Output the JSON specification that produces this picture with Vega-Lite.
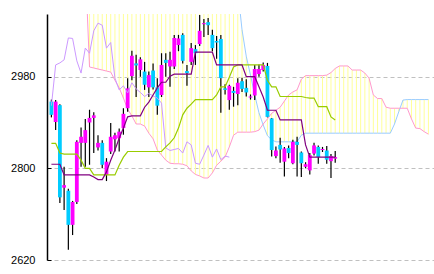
{
"$schema": "https://vega.github.io/schema/vega-lite/v6.json",
"width": 387, "height": 246,
"autosize": "none",
"padding": {"left": 47, "top": 14, "right": 0, "bottom": 14},
"background": "white",
"config": {"view": {"stroke": null}},
"datasets": {
"candles": [
{"i":0,"o":2931,"h":2935,"l":2900,"c":2905},{"i":1,"o":2891,"h":2934,"l":2875,"c":2931},{"i":2,"o":2924,"h":2926,"l":2732,"c":2743},{"i":3,"o":2762,"h":2803,"l":2718,"c":2767},{"i":4,"o":2756,"h":2760,"l":2640,"c":2689},{"i":5,"o":2689,"h":2736,"l":2669,"c":2734},{"i":6,"o":2734,"h":2855,"l":2730,"c":2852},{"i":7,"o":2850,"h":2880,"l":2803,"c":2862},{"i":8,"o":2850,"h":2897,"l":2803,"c":2875},{"i":9,"o":2890,"h":2915,"l":2807,"c":2899},
{"i":10,"o":2899,"h":2910,"l":2830,"c":2904},{"i":11,"o":2841,"h":2865,"l":2835,"c":2850},{"i":12,"o":2850,"h":2855,"l":2800,"c":2807},{"i":13,"o":2787,"h":2820,"l":2775,"c":2813},{"i":14,"o":2833,"h":2889,"l":2828,"c":2862},{"i":15,"o":2857,"h":2870,"l":2833,"c":2865},{"i":16,"o":2859,"h":2878,"l":2833,"c":2872},{"i":17,"o":2879,"h":2918,"l":2866,"c":2907},{"i":18,"o":2918,"h":2977,"l":2911,"c":2957},{"i":19,"o":2981,"h":3031,"l":2973,"c":3021},
{"i":20,"o":3006,"h":3023,"l":2940,"c":3002},{"i":21,"o":2993,"h":3018,"l":2980,"c":3014},{"i":22,"o":2990,"h":3009,"l":2954,"c":2964},{"i":23,"o":2959,"h":2990,"l":2940,"c":2983},{"i":24,"o":2992,"h":3006,"l":2955,"c":2959},{"i":25,"o":2959,"h":2977,"l":2905,"c":2923},{"i":26,"o":2944,"h":3026,"l":2940,"c":3003},{"i":27,"o":3013,"h":3026,"l":2980,"c":3007},{"i":28,"o":3000,"h":3029,"l":2960,"c":3013},{"i":29,"o":3000,"h":3062,"l":2995,"c":3056},
{"i":30,"o":3042,"h":3062,"l":3030,"c":3055},{"i":31,"o":3062,"h":3065,"l":3006,"c":3011},{"i":32,"o":2991,"h":3003,"l":2962,"c":2987},{"i":33,"o":3009,"h":3046,"l":3003,"c":3036},{"i":34,"o":3034,"h":3042,"l":3003,"c":3026},{"i":35,"o":3044,"h":3101,"l":3040,"c":3070},{"i":36,"o":3083,"h":3093,"l":3058,"c":3085},{"i":37,"o":3087,"h":3095,"l":3062,"c":3081},{"i":38,"o":3062,"h":3072,"l":3030,"c":3036},{"i":39,"o":3050,"h":3060,"l":3015,"c":3047},
{"i":40,"o":3054,"h":3062,"l":2909,"c":2977},{"i":41,"o":2957,"h":2965,"l":2945,"c":2954},{"i":42,"o":2934,"h":2964,"l":2915,"c":2962},{"i":43,"o":2952,"h":2960,"l":2921,"c":2948},{"i":44,"o":2946,"h":2977,"l":2924,"c":2968},{"i":45,"o":2971,"h":2978,"l":2950,"c":2956},{"i":46,"o":2958,"h":2975,"l":2941,"c":2949},{"i":47,"o":2939,"h":2945,"l":2935,"c":2941},{"i":48,"o":2943,"h":3003,"l":2934,"c":2995},{"i":49,"o":2985,"h":3004,"l":2980,"c":2995},
{"i":50,"o":2993,"h":3008,"l":2990,"c":3003},{"i":51,"o":3001,"h":3007,"l":2900,"c":2901},{"i":52,"o":2898,"h":2899,"l":2823,"c":2836},{"i":53,"o":2824,"h":2843,"l":2820,"c":2835},{"i":54,"o":2846,"h":2860,"l":2811,"c":2837},{"i":55,"o":2813,"h":2842,"l":2784,"c":2839},{"i":56,"o":2840,"h":2845,"l":2820,"c":2830},{"i":57,"o":2810,"h":2856,"l":2808,"c":2852},{"i":58,"o":2852,"h":2862,"l":2784,"c":2846},{"i":59,"o":2831,"h":2833,"l":2783,"c":2810},
{"i":60,"o":2803,"h":2812,"l":2800,"c":2808},{"i":61,"o":2796,"h":2830,"l":2788,"c":2826},{"i":62,"o":2829,"h":2850,"l":2825,"c":2845},{"i":63,"o":2842,"h":2845,"l":2809,"c":2822},{"i":64,"o":2836,"h":2842,"l":2832,"c":2838},{"i":65,"o":2835,"h":2844,"l":2809,"c":2817},{"i":66,"o":2814,"h":2828,"l":2781,"c":2824},{"i":67,"o":2819,"h":2834,"l":2811,"c":2822}
],
"lines": [
{"i":0,"t":2808,"k":2849},{"i":1,"t":2808,"k":2849},{"i":2,"t":2808,"k":2830},{"i":3,"t":2787,"k":2828},{"i":4,"t":2787,"k":2828},{"i":5,"t":2787,"k":2828},{"i":6,"t":2787,"k":2828},{"i":7,"t":2787,"k":2816},{"i":8,"t":2787,"k":2800},{"i":9,"t":2787,"k":2800},
{"i":10,"t":2783,"k":2787},{"i":11,"t":2778,"k":2787},{"i":12,"t":2778,"k":2787},{"i":13,"t":2793,"k":2787},{"i":14,"t":2816,"k":2787},{"i":15,"t":2836,"k":2787},{"i":16,"t":2859,"k":2806},{"i":17,"t":2879,"k":2822},{"i":18,"t":2901,"k":2833},{"i":19,"t":2903,"k":2833},
{"i":20,"t":2903,"k":2833},{"i":21,"t":2903,"k":2833},{"i":22,"t":2920,"k":2833},{"i":23,"t":2930,"k":2833},{"i":24,"t":2944,"k":2833},{"i":25,"t":2958,"k":2833},{"i":26,"t":2969,"k":2833},{"i":27,"t":2969,"k":2842},{"i":28,"t":2981,"k":2850},{"i":29,"t":2985,"k":2860},
{"i":30,"t":2985,"k":2879},{"i":31,"t":2985,"k":2905},{"i":32,"t":2985,"k":2918},{"i":33,"t":2985,"k":2926},{"i":34,"t":3028,"k":2935},{"i":35,"t":3028,"k":2935},{"i":36,"t":3028,"k":2935},{"i":37,"t":3028,"k":2935},{"i":38,"t":3028,"k":2935},{"i":39,"t":3003,"k":2944},
{"i":40,"t":3003,"k":2960},{"i":41,"t":3003,"k":2960},{"i":42,"t":3003,"k":2979},{"i":43,"t":3003,"k":2999},{"i":44,"t":3003,"k":3003},{"i":45,"t":3003,"k":3003},{"i":46,"t":2980,"k":3003},{"i":47,"t":2980,"k":3003},{"i":48,"t":2980,"k":3003},{"i":49,"t":2960,"k":3003},
{"i":50,"t":2940,"k":3003},{"i":51,"t":2914,"k":2973},{"i":52,"t":2914,"k":2960},{"i":53,"t":2914,"k":2960},{"i":54,"t":2895,"k":2941},{"i":55,"t":2895,"k":2941},{"i":56,"t":2895,"k":2941},{"i":57,"t":2895,"k":2941},{"i":58,"t":2895,"k":2941},{"i":59,"t":2895,"k":2941},
{"i":60,"t":2846,"k":2939},{"i":61,"t":2822,"k":2938},{"i":62,"t":2822,"k":2938},{"i":63,"t":2822,"k":2921},{"i":64,"t":2822,"k":2921},{"i":65,"t":2822,"k":2921},{"i":66,"t":2822,"k":2901},{"i":67,"t":2822,"k":2895}
],
"chikou": [
{"i":0,"v":2923},{"i":1,"v":3003},{"i":2,"v":3007},{"i":3,"v":3013},{"i":4,"v":3056},{"i":5,"v":3055},{"i":6,"v":3011},{"i":7,"v":2987},{"i":8,"v":3036},{"i":9,"v":3026},
{"i":10,"v":3070},{"i":11,"v":3085},{"i":12,"v":3081},{"i":13,"v":3036},{"i":14,"v":3047},{"i":15,"v":2977},{"i":16,"v":2954},{"i":17,"v":2962},{"i":18,"v":2948},{"i":19,"v":2968},
{"i":20,"v":2956},{"i":21,"v":2949},{"i":22,"v":2941},{"i":23,"v":2947},{"i":24,"v":2942},{"i":25,"v":2938},{"i":26,"v":2928},{"i":27,"v":2840},{"i":28,"v":2835},{"i":29,"v":2837},
{"i":30,"v":2839},{"i":31,"v":2830},{"i":32,"v":2852},{"i":33,"v":2846},{"i":34,"v":2810},{"i":35,"v":2808},{"i":36,"v":2826},{"i":37,"v":2845},{"i":38,"v":2822},{"i":39,"v":2838},
{"i":40,"v":2817},{"i":41,"v":2824},{"i":42,"v":2822}
],
"cloud": [
{"i":7,"sa":3200,"sb":3250},{"i":8,"sa":3200,"sb":3200},{"i":9,"sa":3200,"sb":2999},
{"i":10,"sa":3200,"sb":2997},{"i":11,"sa":3200,"sb":2995},{"i":12,"sa":3200,"sb":2993},{"i":13,"sa":3200,"sb":2991},{"i":14,"sa":3200,"sb":2989},{"i":15,"sa":3200,"sb":2973},{"i":16,"sa":3200,"sb":2958},{"i":17,"sa":3200,"sb":2938},{"i":18,"sa":3200,"sb":2916},{"i":19,"sa":3200,"sb":2903},
{"i":20,"sa":3200,"sb":2887},{"i":21,"sa":3200,"sb":2887},{"i":22,"sa":3200,"sb":2883},{"i":23,"sa":3200,"sb":2869},{"i":24,"sa":3200,"sb":2858},{"i":25,"sa":3200,"sb":2836},{"i":26,"sa":3200,"sb":2826},{"i":27,"sa":3200,"sb":2816},{"i":28,"sa":3200,"sb":2810},{"i":29,"sa":3200,"sb":2809},
{"i":30,"sa":3200,"sb":2809},{"i":31,"sa":3200,"sb":2808},{"i":32,"sa":3200,"sb":2805},{"i":33,"sa":3200,"sb":2795},{"i":34,"sa":3200,"sb":2788},{"i":35,"sa":3200,"sb":2785},{"i":36,"sa":3200,"sb":2781},{"i":37,"sa":3200,"sb":2781},{"i":38,"sa":3200,"sb":2791},{"i":39,"sa":3200,"sb":2806},
{"i":40,"sa":3200,"sb":2814},{"i":41,"sa":3200,"sb":2822},{"i":42,"sa":3200,"sb":2842},{"i":43,"sa":3200,"sb":2865},{"i":44,"sa":3150,"sb":2871},{"i":45,"sa":3072,"sb":2871},{"i":46,"sa":3020,"sb":2871},{"i":47,"sa":2983,"sb":2871},{"i":48,"sa":2944,"sb":2872},{"i":49,"sa":2909,"sb":2875},
{"i":50,"sa":2885,"sb":2887},{"i":51,"sa":2864,"sb":2897},{"i":52,"sa":2856,"sb":2908},{"i":53,"sa":2852,"sb":2914},{"i":54,"sa":2852,"sb":2920},{"i":55,"sa":2852,"sb":2932},{"i":56,"sa":2852,"sb":2944},{"i":57,"sa":2852,"sb":2950},{"i":58,"sa":2852,"sb":2954},{"i":59,"sa":2865,"sb":2975},
{"i":60,"sa":2869,"sb":2982},{"i":61,"sa":2869,"sb":2982},{"i":62,"sa":2869,"sb":2982},{"i":63,"sa":2869,"sb":2982},{"i":64,"sa":2869,"sb":2982},{"i":65,"sa":2869,"sb":2983},{"i":66,"sa":2869,"sb":2988},{"i":67,"sa":2869,"sb":2996},{"i":68,"sa":2869,"sb":3001},{"i":69,"sa":2869,"sb":3001},
{"i":70,"sa":2869,"sb":3001},{"i":71,"sa":2869,"sb":2993},{"i":72,"sa":2869,"sb":2993},{"i":73,"sa":2869,"sb":2993},{"i":74,"sa":2869,"sb":2987},{"i":75,"sa":2869,"sb":2977},{"i":76,"sa":2869,"sb":2944},{"i":77,"sa":2869,"sb":2937},{"i":78,"sa":2869,"sb":2937},{"i":79,"sa":2869,"sb":2920},
{"i":80,"sa":2869,"sb":2918},{"i":81,"sa":2887,"sb":2918},{"i":82,"sa":2911,"sb":2918},{"i":83,"sa":2934,"sb":2918},{"i":84,"sa":2935,"sb":2918},{"i":85,"sa":2935,"sb":2897},{"i":86,"sa":2935,"sb":2879},{"i":87,"sa":2935,"sb":2878},{"i":88,"sa":2935,"sb":2872},{"i":89,"sa":2935,"sb":2867}
]
},
"encoding": {
"x": {"field": "i", "type": "quantitative", "scale": {"domain": [0.14, 89.14], "nice": false, "zero": false}, "axis": null}
},
"layer": [
{"data": {"name": "cloud"}, "mark": {"type": "rule", "color": "#ffff99", "strokeWidth": 1, "clip": true},
 "encoding": {"y": {"field": "sa", "type": "quantitative", "title": null, "scale": {"domain": [2620, 3103], "nice": false, "zero": false},
   "axis": {"values": [2620, 2800, 2980], "format": "d", "grid": true, "gridColor": "#c0c0c0", "gridDash": [4, 3], "gridWidth": 1, "domainColor": "#000000", "domainWidth": 1.5, "ticks": true, "tickSize": -4, "tickColor": "#000000", "tickWidth": 1, "labelFont": "Liberation Sans", "labelFontSize": 11, "labelColor": "#000000", "labelPadding": 16, "title": null}},
  "y2": {"field": "sb"}}},
{"data": {"name": "cloud"}, "mark": {"type": "line", "color": "#99ccff", "strokeWidth": 1, "clip": true},
 "encoding": {"y": {"field": "sa", "type": "quantitative", "title": null}}},
{"data": {"name": "cloud"}, "mark": {"type": "line", "color": "#ff99cc", "strokeWidth": 1, "clip": true},
 "encoding": {"y": {"field": "sb", "type": "quantitative", "title": null}}},
{"data": {"name": "candles"}, "mark": {"type": "rule", "color": "#000000", "strokeWidth": 1.2, "clip": true},
 "encoding": {"y": {"field": "l", "type": "quantitative", "title": null}, "y2": {"field": "h"}}},
{"data": {"name": "candles"}, "mark": {"type": "bar", "size": 3.8, "clip": true},
 "encoding": {"y": {"field": "o", "type": "quantitative", "title": null}, "y2": {"field": "c"},
  "color": {"condition": {"test": "datum.c >= datum.o", "value": "#ff00ff"}, "value": "#00ccff"}}},
{"data": {"name": "chikou"}, "mark": {"type": "line", "color": "#cc99ff", "strokeWidth": 1, "clip": true},
 "encoding": {"y": {"field": "v", "type": "quantitative", "title": null}}},
{"data": {"name": "lines"}, "mark": {"type": "line", "color": "#99cc00", "strokeWidth": 1.2, "clip": true},
 "encoding": {"y": {"field": "k", "type": "quantitative", "title": null}}},
{"data": {"name": "lines"}, "mark": {"type": "line", "color": "#800080", "strokeWidth": 1.2, "clip": true},
 "encoding": {"y": {"field": "t", "type": "quantitative", "title": null}}}
]
}
